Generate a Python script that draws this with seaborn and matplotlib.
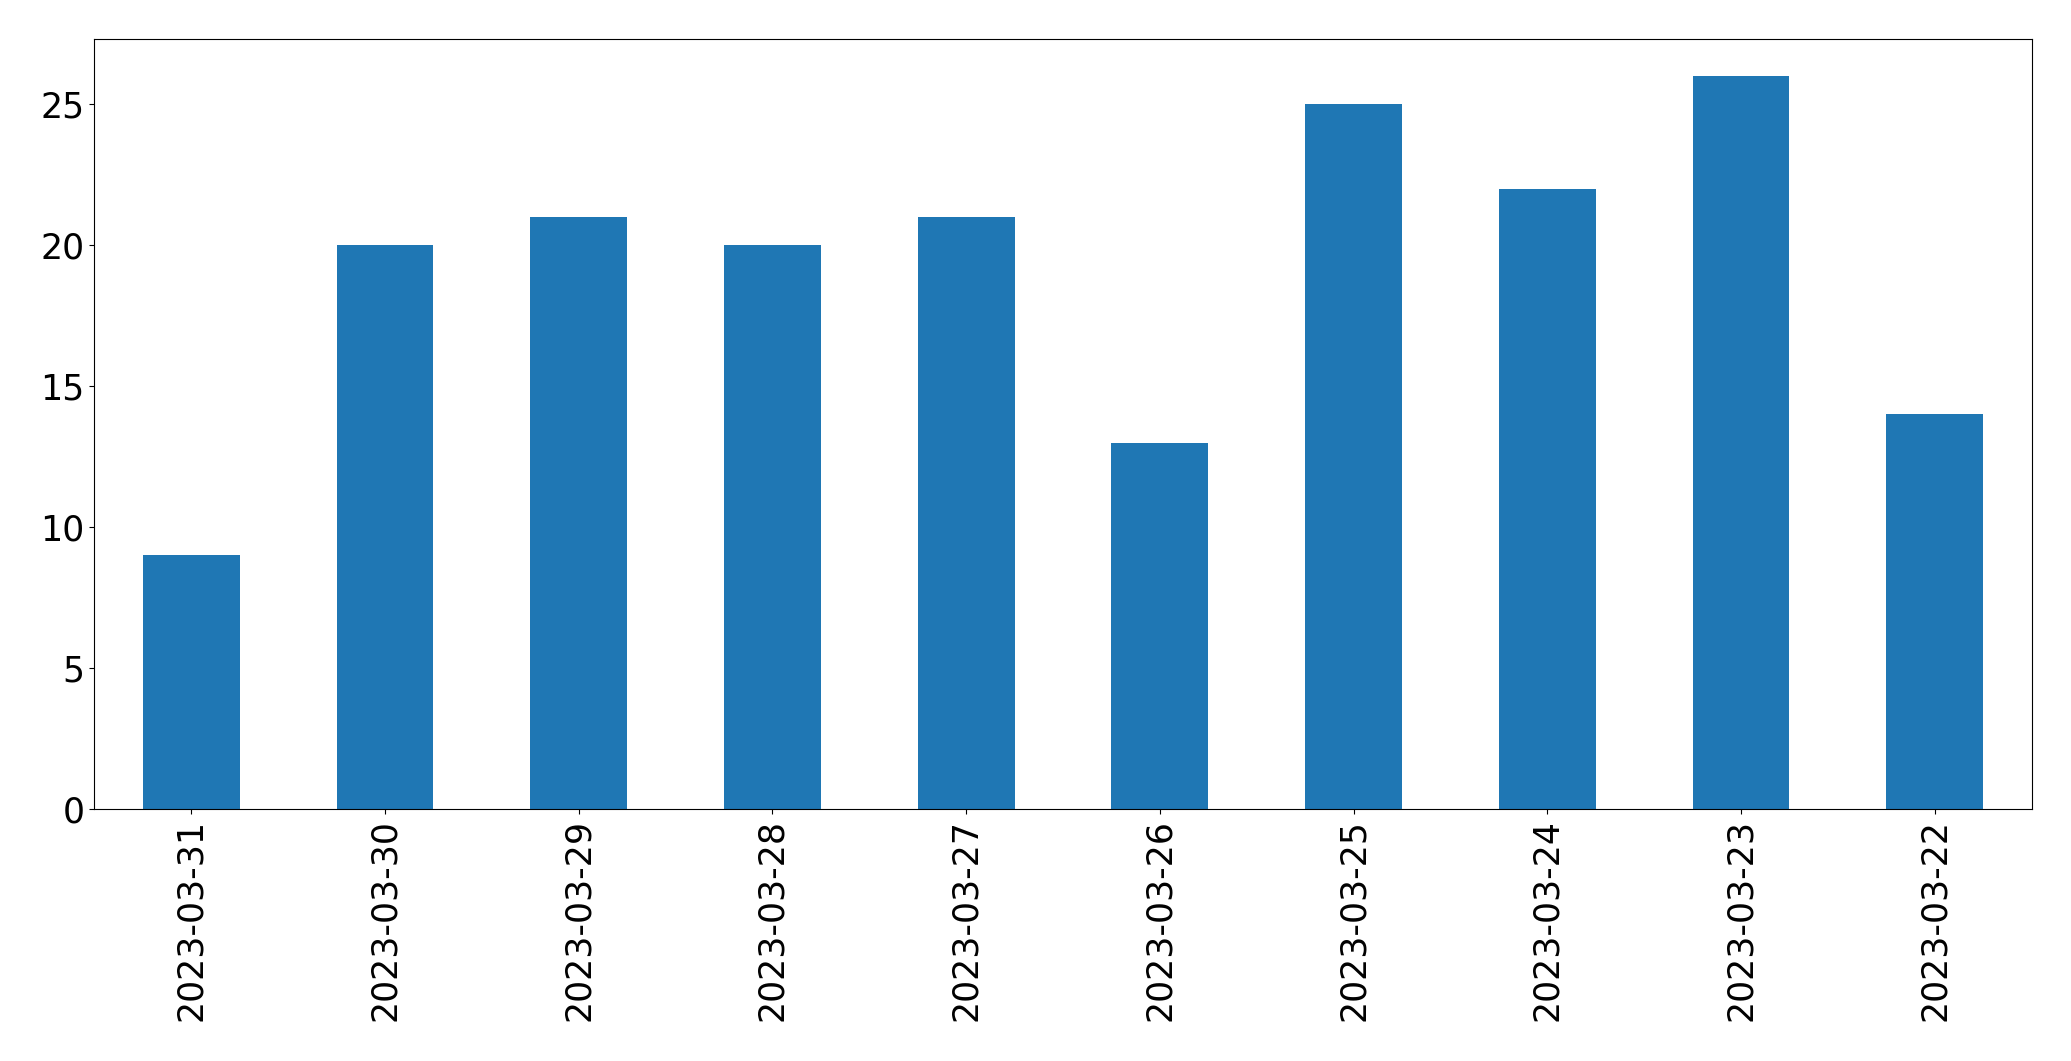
import matplotlib
matplotlib.use('Agg')
import matplotlib.pyplot as plt
import seaborn as sns
import pandas as pd

# даты и количество
dates = ['2023-03-31', '2023-03-30', '2023-03-29', '2023-03-28', '2023-03-27',
         '2023-03-26', '2023-03-25', '2023-03-24', '2023-03-23', '2023-03-22']
counts = [9, 20, 21, 20, 21, 13, 25, 22, 26, 14]

df = pd.DataFrame({'date': dates, 'count': counts})

fig, ax = plt.subplots(figsize=(20.71, 10.61), dpi=100)
fig.subplots_adjust(left=0.0456, right=0.981, top=0.9628, bottom=0.2375)

sns.barplot(data=df, x='date', y='count', order=dates, color='#1f77b4',
            saturation=1, width=0.5, linewidth=0, ax=ax)

ax.set_xlim(-0.5, len(dates) - 0.5)
ax.set_ylim(0, max(counts) * 1.05)
ax.set_xlabel('')
ax.set_ylabel('')
ax.tick_params(axis='both', labelsize=25)
plt.setp(ax.get_xticklabels(), rotation=90)

fig.savefig('out.png', dpi=100)
